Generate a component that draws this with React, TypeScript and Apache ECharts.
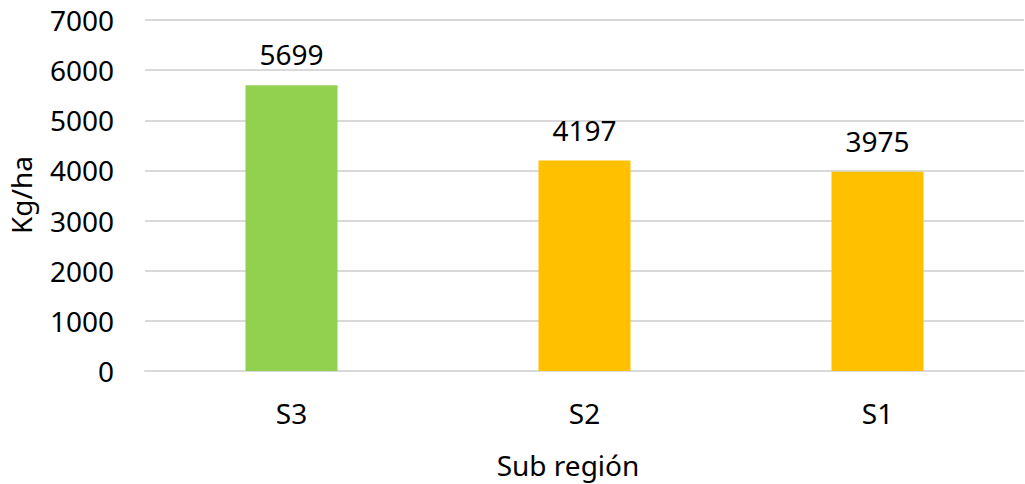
import React, { useEffect, useRef } from "react";
import * as echarts from "echarts";

const categories = ["S3", "S2", "S1"];
const values = [5699, 4197, 3975];
const barColors = ["#92D050", "#FFC000", "#FFC000"];
const yTicks = { min: 0, max: 7000, interval: 1000 };
const xTitle = "Sub región";
const yTitle = "Kg/ha";

const FONT = "Noto Sans";

export default function App() {
  const ref = useRef<HTMLDivElement>(null);
  useEffect(() => {
    if (!ref.current) return;
    const chart = echarts.init(ref.current, null, { renderer: "svg" });
    chart.setOption({
      animation: false,
      backgroundColor: "#ffffff",
      grid: { left: 145, right: 1, top: 20, bottom: 113, containLabel: false },
      xAxis: {
        type: "category",
        data: categories,
        axisLine: { show: true, lineStyle: { color: "#d9d9d9", width: 2 } },
        axisTick: { show: false },
        axisLabel: { color: "#000", fontFamily: FONT, fontSize: 28, margin: 28 },
      },
      yAxis: {
        type: "value",
        min: yTicks.min,
        max: yTicks.max,
        interval: yTicks.interval,
        axisLine: { show: false },
        axisTick: { show: false },
        splitLine: { show: true, lineStyle: { color: "#d9d9d9", width: 2 } },
        axisLabel: {
          color: "#000",
          fontFamily: FONT,
          fontSize: 28,
          margin: 31,
          formatter: (v: number) => String(v),
        },
      },
      series: [
        {
          type: "bar",
          data: values.map((v, i) => ({ value: v, itemStyle: { color: barColors[i] } })),
          barWidth: 92,
          label: {
            show: true,
            position: "top",
            distance: 17,
            color: "#000",
            fontFamily: FONT,
            fontSize: 28,
            formatter: (p: any) => String(p.value),
          },
        },
      ],
      graphic: [
        {
          type: "text",
          x: 568,
          y: 465,
          style: {
            text: xTitle,
            fill: "#000",
            font: `28px "${FONT}"`,
            textAlign: "center",
            textVerticalAlign: "middle",
          },
        },
        {
          type: "text",
          x: 21,
          y: 195,
          rotation: Math.PI / 2,
          style: {
            text: yTitle,
            fill: "#000",
            font: `28px "${FONT}"`,
            textAlign: "center",
            textVerticalAlign: "middle",
          },
        },
      ],
    });
    return () => chart.dispose();
  }, []);
  return (
    <div
      ref={ref}
      style={{ position: "fixed", left: 0, top: 0, width: 1025, height: 484 }}
    />
  );
}
